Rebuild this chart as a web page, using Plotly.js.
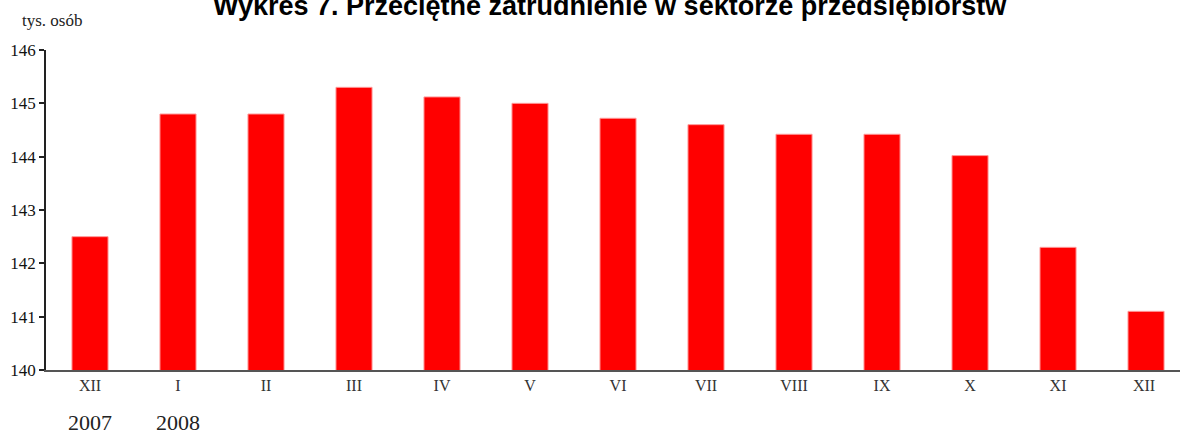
<!DOCTYPE html>
<html>
<head>
<meta charset="utf-8">
<script src="https://cdn.plot.ly/plotly-3.0.1.min.js"></script>
<style>
html,body{margin:0;padding:0;background:#fff;overflow:hidden;}
#chart{width:1180px;height:430px;}
</style>
</head>
<body>
<div id="chart"></div>
<script>
const months = ["XII", "I", "II", "III", "IV", "V", "VI", "VII", "VIII", "IX", "X", "XI", "XII "];
const employment = [142.5, 144.8, 144.8, 145.3, 145.12, 145.0, 144.72, 144.6, 144.42, 144.42, 144.02, 142.3, 141.1];
const yearLabels = ["2007", "2008"];
const yearPositions = ["XII", "I"];
const chartTitle = "Wykres 7. Przeciętne zatrudnienie w sektorze przedsiębiorstw";
const unitLabel = "tys. osób";

const serif = "Liberation Serif, Times New Roman, serif";

const trace = {
  type: "bar",
  x: months,
  y: employment,
  width: 0.41,
  marker: {color: "#ff0000", line: {color: "#ff9a9a", width: 1}},
  hoverinfo: "x+y"
};

const annotations = [
  {
    text: unitLabel, xref: "paper", yref: "paper", x: 0, y: 1,
    xanchor: "left", yanchor: "middle", xshift: -26, yshift: 30,
    showarrow: false, font: {family: serif, size: 17, color: "#222"}
  }
];
yearLabels.forEach((yl, i) => {
  annotations.push({
    text: yl, xref: "x", yref: "paper", x: yearPositions[i], y: 0,
    xanchor: "center", yanchor: "middle", yshift: -52,
    showarrow: false, font: {family: serif, size: 22, color: "#222"}
  });
});

const layout = {
  width: 1180, height: 430,
  margin: {l: 46, r: 0, t: 50, b: 60},
  paper_bgcolor: "#fff", plot_bgcolor: "#fff",
  showlegend: false,
  title: {
    text: "<b>" + chartTitle + "</b>",
    xref: "paper", x: 0.497, xanchor: "center",
    yref: "container", y: 0.988, yanchor: "middle",
    font: {family: "Liberation Sans, Arial, sans-serif", size: 27, color: "#000"}
  },
  xaxis: {
    type: "category",
    range: [-0.5, 12.386],
    showline: true, linecolor: "#555", linewidth: 1.5,
    ticks: "", showgrid: false, zeroline: false,
    tickfont: {family: serif, size: 16, color: "#333"}
  },
  yaxis: {
    range: [140, 146], dtick: 1, tick0: 140,
    showline: true, linecolor: "#222", linewidth: 1.5,
    ticks: "outside", ticklen: 5, tickwidth: 1.5, tickcolor: "#222",
    showgrid: false, zeroline: false,
    tickfont: {family: serif, size: 17, color: "#111"}
  },
  annotations: annotations
};

Plotly.newPlot("chart", [trace], layout, {displayModeBar: false});
</script>
</body>
</html>
